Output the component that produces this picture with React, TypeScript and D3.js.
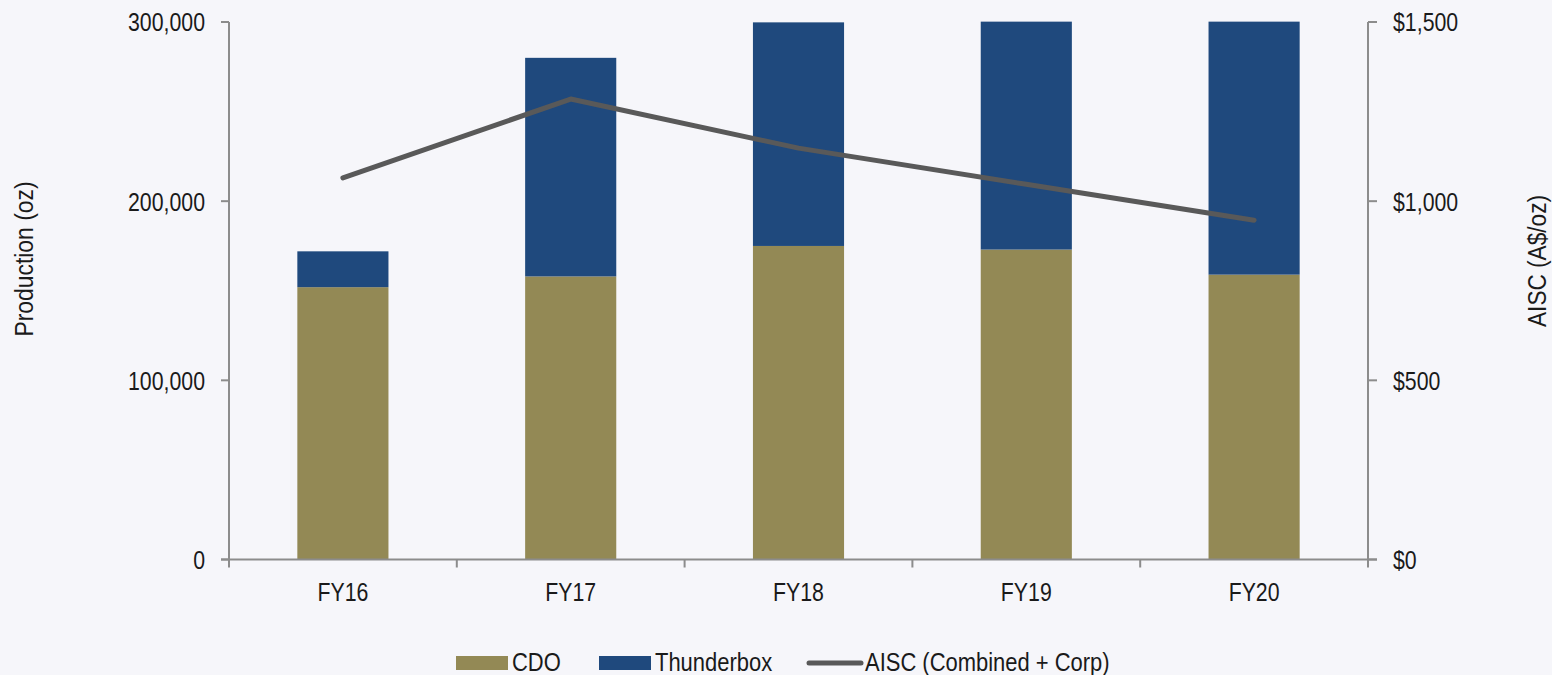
import React from "react";
import * as d3 from "d3";

const categories = ["FY16", "FY17", "FY18", "FY19", "FY20"];
const cdo = [152000, 158000, 175000, 173000, 159000];
const thunderbox = [20000, 122000, 124800, 127200, 141200];
const aisc = [1065, 1285, 1148, 1047, 947];
const leftTicks = [0, 100000, 200000, 300000];
const rightTicks = [0, 500, 1000, 1500];

const W = 1552;
const H = 675;
const FONT = "'Liberation Sans', Arial, sans-serif";
const NARROW = 0.82;
const BG = "#f6f6fa";
const C_CDO = "#938955";
const C_TB = "#1f497d";
const C_LINE = "#595959";
const AXIS = "#8c8c8c";
const TXT = "#1a1a1a";

type TProps = {
  x: number;
  y: number;
  anchor?: "start" | "middle" | "end";
  rotate?: number;
  dy?: string;
  sx?: number;
  children: React.ReactNode;
};

function NText({ x, y, anchor = "start", rotate = 0, dy, sx = NARROW, children }: TProps) {
  return (
    <g transform={`translate(${x},${y}) rotate(${rotate}) scale(${sx},1)`}>
      <text x={0} y={0} dy={dy} textAnchor={anchor} fontSize={26} fill={TXT} fontFamily={FONT}>
        {children}
      </text>
    </g>
  );
}

export default function App() {
  const x0 = 229, x1 = 1368, yTop = 22, yBot = 559.5;
  const x = d3.scaleBand<string>().domain(categories).range([x0, x1]).paddingInner(0.6).paddingOuter(0.3);
  const band = d3.scaleBand<string>().domain(categories).range([x0, x1]);
  const yL = d3.scaleLinear().domain([0, 300000]).range([yBot, yTop]);
  const yR = d3.scaleLinear().domain([0, 1500]).range([yBot, yTop]);
  const fmtL = d3.format(",");
  const fmtR = (v: number) => "$" + d3.format(",")(v);
  const line = d3
    .line<number>()
    .x((_, i) => (x(categories[i]) as number) + x.bandwidth() / 2)
    .y((d) => yR(d));

  const legendItems = [
    { type: "rect", color: C_CDO, label: "CDO", sx: 456, tx: 512 },
    { type: "rect", color: C_TB, label: "Thunderbox", sx: 599, tx: 655 },
    { type: "line", color: C_LINE, label: "AISC (Combined + Corp)", sx: 807, tx: 865 },
  ];

  return (
    <svg
      width={W}
      height={H}
      style={{ position: "absolute", left: 0, top: 0, background: BG }}
      fontFamily={FONT}
    >
      <rect x={0} y={0} width={W} height={H} fill={BG} />
      {/* bars */}
      {categories.map((c, i) => {
        const bx = x(c) as number;
        const bw = x.bandwidth();
        return (
          <g key={c}>
            <rect x={bx} y={yL(cdo[i])} width={bw} height={yL(0) - yL(cdo[i])} fill={C_CDO} />
            <rect
              x={bx}
              y={yL(cdo[i] + thunderbox[i])}
              width={bw}
              height={yL(cdo[i]) - yL(cdo[i] + thunderbox[i])}
              fill={C_TB}
            />
          </g>
        );
      })}
      {/* line */}
      <path d={line(aisc) || ""} fill="none" stroke={C_LINE} strokeWidth={5} strokeLinecap="round" strokeLinejoin="round" />
      {/* left axis */}
      <line x1={x0} x2={x0} y1={yTop} y2={yBot + 8} stroke={AXIS} strokeWidth={2} />
      {leftTicks.map((t) => (
        <g key={"l" + t}>
          <line x1={x0 - 8} x2={x0} y1={yL(t)} y2={yL(t)} stroke={AXIS} strokeWidth={2} />
          <NText x={205} y={yL(t)} dy="0.36em" anchor="end">
            {fmtL(t)}
          </NText>
        </g>
      ))}
      {/* right axis */}
      <line x1={x1} x2={x1} y1={yTop} y2={yBot + 8} stroke={AXIS} strokeWidth={2} />
      {rightTicks.map((t) => (
        <g key={"r" + t}>
          <line x1={x1} x2={x1 + 9} y1={yR(t)} y2={yR(t)} stroke={AXIS} strokeWidth={2} />
          <NText x={1393} y={yR(t)} dy="0.36em" anchor="start">
            {fmtR(t)}
          </NText>
        </g>
      ))}
      {/* bottom axis */}
      <line x1={x0 - 8} x2={x1 + 9} y1={yBot} y2={yBot} stroke={AXIS} strokeWidth={2} />
      {categories.map((c, i) =>
        i > 0 ? (
          <line key={"bt" + c} x1={band(c) as number} x2={band(c) as number} y1={yBot} y2={yBot + 8} stroke={AXIS} strokeWidth={2} />
        ) : null
      )}
      {categories.map((c) => (
        <NText key={"xl" + c} x={(x(c) as number) + x.bandwidth() / 2} y={601} anchor="middle">
          {c}
        </NText>
      ))}
      {/* axis titles */}
      <NText x={33} y={259} rotate={-90} anchor="middle" sx={0.88}>
        Production (oz)
      </NText>
      <NText x={1546} y={261} rotate={-90} anchor="middle" sx={0.87}>
        AISC (A$/oz)
      </NText>
      {/* legend */}
      {legendItems.map((it) => (
        <g key={it.label}>
          {it.type === "rect" ? (
            <rect x={it.sx} y={656} width={52} height={14} fill={it.color} />
          ) : (
            <line x1={it.sx + 2} x2={it.sx + 54} y1={663} y2={663} stroke={it.color} strokeWidth={5} strokeLinecap="round" />
          )}
          <NText x={it.tx} y={671} sx={0.845}>
            {it.label}
          </NText>
        </g>
      ))}
    </svg>
  );
}
